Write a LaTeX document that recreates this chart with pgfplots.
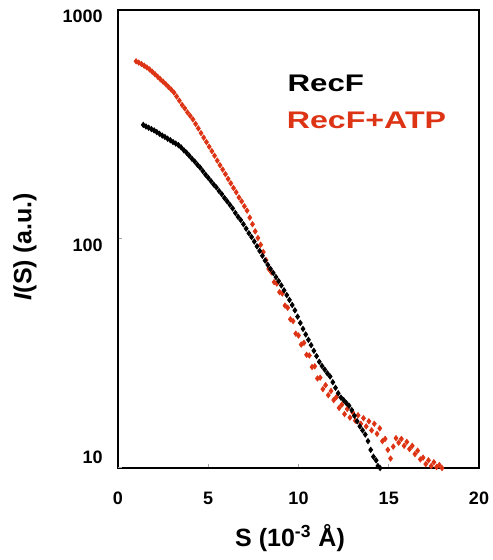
\documentclass[border=0pt]{standalone}
\usepackage{fontspec}
\setmainfont{Liberation Sans}
\usepackage{pgfplots}
\pgfplotsset{compat=1.18}
\definecolor{atpred}{RGB}{220,52,20}
\begin{document}
\begin{tikzpicture}
\path[use as bounding box] (-59pt,-46pt) rectangle (187pt,234pt);
\begin{axis}[
  at={(0,0)}, anchor=south west,
  scale only axis, width=180.5pt, height=229pt,
  xmin=0, xmax=20, ymin=10, ymax=1000, ymode=log,
  xtick={0,5,10,15,20}, xticklabels={0,5,10,15,20},
  ytick={100,1000}, yticklabels={100,1000},
  extra y ticks={10}, extra y tick labels={10},
  extra y tick style={yticklabel style={yshift=8.7pt}},
  yminorticks=false, minor tick num=0,
  xtick pos=bottom, ytick pos=left,
  tick align=inside, major tick length=2pt,
  tick style={gray!70, line width=0.5pt},
  axis line style={line width=1pt},
  ticklabel style={font=\fontsize{9}{10.8}\bfseries\selectfont, inner sep=0pt},
  xticklabel style={anchor=center, yshift=-15pt},
  yticklabel style={anchor=east, xshift=-7.5pt, yshift=-3.2pt},
  xlabel={S (10\textsuperscript{-3} Å)},
  ylabel={\textit{I}(S) (a.u.)},
  label style={font=\fontsize{12.5}{15}\bfseries\selectfont},
  xlabel style={at={(axis description cs:0.4765,-0.1716)}, anchor=base},
  ylabel style={at={(axis description cs:-0.2576,0.4825)}, anchor=center, rotate=0},
]
\addplot[only marks, mark=diamond*, mark size=1.3pt, atpred] coordinates {
(1.00,597)(1.15,589)(1.30,581)(1.45,571)(1.60,561)(1.75,550)(1.90,537)(2.05,524)(2.20,511)(2.35,498)
(2.50,486)(2.65,474)(2.80,461)(2.95,449)(3.10,436)(3.25,419)(3.40,402)(3.55,385)(3.70,372)(3.85,357)
(4.00,345)(4.15,333)(4.30,318)(4.45,304)(4.60,290)(4.75,277)(4.90,265)(5.05,253)(5.20,242)(5.35,231)
(5.50,220)(5.65,210)(5.80,201)(5.95,192)(6.10,183)(6.25,175)(6.40,167)(6.55,160)(6.70,152)(6.85,146)
(7.00,139)(7.15,133)(7.30,124)(7.45,116)(7.60,108)(7.75,101)(7.90,94.4)(8.05,87.7)(8.20,80.9)(8.35,74.1)
(8.50,71.5)(8.65,64.8)(8.80,63.9)(8.95,58.6)(9.10,57.8)(9.25,51.2)(9.40,50.1)(9.55,44.6)(9.70,43.8)(9.85,38.6)
(10.00,37.9)(10.15,34.6)(10.30,35.2)(10.45,31.2)(10.60,31.0)(10.75,27.6)(10.90,27.8)(11.05,24.6)(11.20,24.8)(11.35,22.1)
(11.50,23.0)(11.65,20.8)(11.80,21.7)(11.95,19.8)(12.10,20.4)(12.25,18.3)(12.40,18.9)(12.55,17.2)(12.70,18.1)(12.85,16.6)
(13.00,17.5)(13.15,16.1)(13.30,17.0)(13.45,15.6)(13.60,16.5)(13.75,15.2)(13.90,16.0)(14.05,14.6)(14.20,15.6)(14.35,14.1)
(14.50,14.9)(14.65,13.1)(14.80,13.4)(14.95,12.0)(15.10,11.0)(15.25,12.4)(15.40,13.5)(15.55,12.9)(15.70,13.4)(15.85,12.5)
(16.00,13.0)(16.15,12.1)(16.30,12.5)(16.45,11.5)(16.60,11.9)(16.75,10.9)(16.90,11.1)(17.05,10.4)(17.20,10.8)(17.35,10.2)
(17.50,10.6)(17.65,10.1)(17.80,10.3)(17.95,10.0)
};
\addplot[only marks, mark=diamond*, mark size=1.3pt, black] coordinates {
(1.40,315)(1.55,310)(1.70,306)(1.85,302)(2.00,298)(2.15,293)(2.30,288)(2.45,283)(2.60,279)(2.75,274)
(2.90,270)(3.05,265)(3.20,261)(3.35,257)(3.50,251)(3.65,244)(3.80,238)(3.95,231)(4.10,224)(4.25,218)
(4.40,211)(4.55,205)(4.70,198)(4.85,191)(5.00,185)(5.15,179)(5.30,173)(5.45,168)(5.60,162)(5.75,157)
(5.90,151)(6.05,146)(6.20,141)(6.35,136)(6.50,130)(6.65,125)(6.80,121)(6.95,116)(7.10,111)(7.25,106)
(7.40,102)(7.55,97.5)(7.70,92.9)(7.85,88.7)(8.00,84.5)(8.15,80.5)(8.30,77.1)(8.45,74.0)(8.60,71.1)(8.75,68.2)
(8.90,65.5)(9.05,62.7)(9.20,59.7)(9.35,56.9)(9.50,54.2)(9.65,51.5)(9.80,48.8)(9.95,45.8)(10.10,43.0)(10.25,40.5)
(10.40,38.3)(10.55,36.3)(10.70,34.4)(10.85,32.5)(11.00,30.8)(11.15,29.1)(11.30,27.9)(11.45,26.9)(11.60,25.9)(11.75,25.1)
(11.90,23.7)(12.05,22.4)(12.20,21.2)(12.35,20.3)(12.50,19.8)(12.65,19.2)(12.80,18.7)(12.95,17.9)(13.10,16.9)(13.25,16.0)
(13.40,15.2)(13.55,14.6)(13.70,14.0)(13.85,13.1)(14.00,12.0)(14.15,11.2)(14.30,10.8)(14.40,10.2)(14.52,10.0)
};
\node[anchor=base west, inner sep=0pt, font=\fontsize{12}{14}\bfseries\selectfont, black] at (axis cs:9.38,440) {\scalebox{1.3}[1]{RecF}};
\node[anchor=base west, inner sep=0pt, font=\fontsize{12}{14}\bfseries\selectfont, text=atpred] at (axis cs:9.33,304) {\scalebox{1.34}[1]{RecF+ATP}};
\end{axis}
\end{tikzpicture}
\end{document}
